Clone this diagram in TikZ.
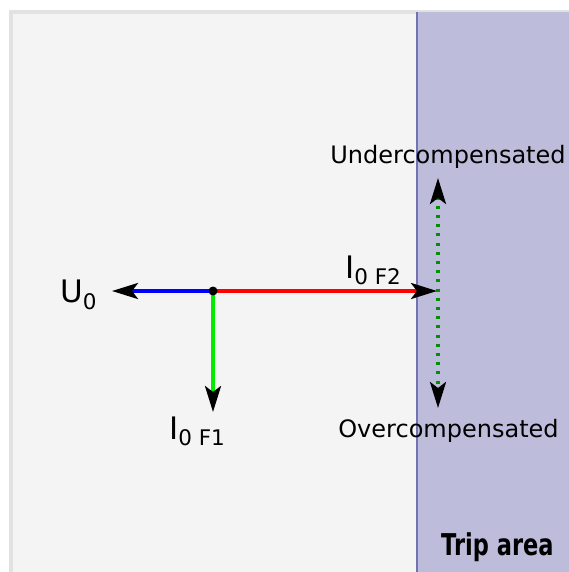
\documentclass[tikz,border=0pt]{standalone}
\usepackage{fontspec}
\setmainfont{DejaVu Sans}
\newfontfamily\tripfont[FakeStretch=0.75]{DejaVu Sans Bold}
\usepackage{tikz}
\usetikzlibrary{arrows.meta, positioning}
\definecolor{panelgray}{RGB}{244, 244, 244}
\definecolor{paneledge}{RGB}{226, 226, 226}
\definecolor{tripfill}{RGB}{189, 189, 219}
\definecolor{tripedge}{RGB}{115, 115, 180}
\definecolor{vecblue}{RGB}{0, 0, 255}
\definecolor{vecred}{RGB}{255, 0, 0}
\definecolor{vecgreen}{RGB}{0, 235, 0}
\definecolor{dotgreen}{RGB}{0, 145, 0}
\newcommand{\idx}[1]{\raisebox{-6.5pt}{\fontsize{21.5}{21.5}\selectfont #1}}
\tikzset{
    vec/.style={
        -{Stealth[black, length=26pt, width=16pt, inset=6pt]},
        line width=3.5pt
    },
    swing/.style={
        {Stealth[black, length=26pt, width=16pt, inset=6pt]}-{Stealth[black, length=26pt, width=16pt, inset=6pt]},
        dotgreen,
        line width=3.5pt,
        dash pattern=on 3pt off 6.2pt
    },
    vlabel/.style={
        font=\fontsize{31}{31}\selectfont,
        inner sep=0pt
    },
    zlabel/.style={
        font=\fontsize{24}{24}\selectfont,
        inner sep=0pt
    }
}

\begin{document}
\begin{tikzpicture}[x=1pt, y=-1pt]
        \useasboundingbox (0,0) rectangle (569,572);

        % background and trip area
        \fill[paneledge] (9,10) rectangle (569,572);
        \fill[panelgray] (13,14) rectangle (569,572);
        \fill[tripfill] (417,12) rectangle (569,572);
        \draw[tripedge, line width=1.5pt] (417,12) -- (417,572);

        \coordinate (o) at (213,291);
        \coordinate (utip) at (112,291);
        \coordinate (ftwotip) at (437,291);
        \coordinate (fonetip) at (213,412);
        \coordinate (undtip) at (438,178);
        \coordinate (ovtip) at (438,408);

        \draw[vec, vecblue] (o) -- (utip);
        \draw[vec, vecred] (o) -- (ftwotip);
        \draw[vec, vecgreen] (o) -- (fonetip);
        \draw[swing] (undtip) -- (ovtip);
        \fill[black] (o) circle (4.5);

        \node[vlabel, anchor=base west] (ulbl) at (60,302.5) {U\idx{0}};
        \node[vlabel, anchor=base west] (ftwolbl) at (345,278) {I\idx{0 F2}};
        \node[vlabel, anchor=base west] (fonelbl) at (169,439) {I\idx{0 F1}};

        \node[zlabel, anchor=base] (undlbl) at (448,164) {Undercompensated};
        \node[zlabel, anchor=base] (ovlbl) at (448.5,437) {Overcompensated};

        \node[inner sep=0pt, font=\fontsize{30}{30}\selectfont\tripfont, anchor=base west] (trip) at (441,555) {Trip area};
\end{tikzpicture}
\end{document}
